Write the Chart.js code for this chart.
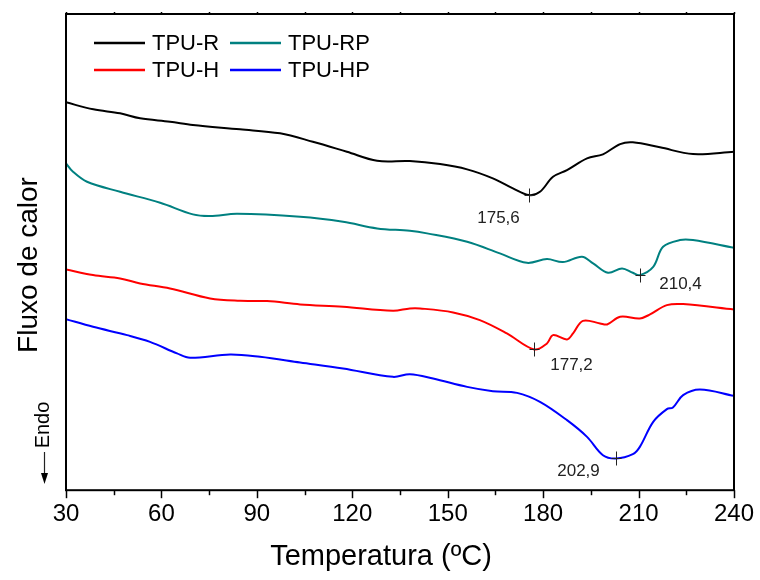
<!DOCTYPE html>
<html>
<head>
<meta charset="utf-8">
<script src="https://cdn.jsdelivr.net/npm/chart.js@4"></script>
<style>
  body { margin: 0; background: #fff; }
  #wrap { width: 760px; height: 580px; }
</style>
</head>
<body>
<div id="wrap"><canvas id="dscChart" width="760" height="580"></canvas></div>
<script>
// ---------- DSC CURVES (heat flow, arbitrary units) ----------

const seriesNames = ['TPU-R', 'TPU-RP', 'TPU-H', 'TPU-HP'];
const seriesColors = ['#000000', '#008080', '#ff0000', '#0000ff'];

const tempR = [30, 38.6, 47, 53.3, 62.7, 69.9, 84.7, 97.3, 107.6, 118.3, 127.8, 138.1, 147.6, 156.1, 164.2, 170.5, 175.6, 179, 183.1, 187.5, 193.8, 198.8, 204.2, 208.2, 216.7, 227.1, 240];
const flowR = [387.7, 380.7, 376.7, 371.7, 368.3, 365, 360.7, 356.7, 348.3, 338.3, 329.3, 329, 326, 320.7, 311.7, 301.7, 295, 298.3, 313.3, 320, 331.7, 335.7, 346, 347.7, 342.7, 336, 338.3];

const tempRP = [30, 32.2, 36.6, 47, 59.6, 69.9, 75.3, 83.8, 103.6, 117.1, 127.8, 138.1, 143.5, 156.1, 166.4, 174.9, 181.2, 186.2, 192.2, 195.7, 200.4, 204.8, 208.2, 210.4, 214.6, 217.7, 223, 227.1, 240];
const flowRP = [326.7, 318.3, 308.3, 298.3, 287.3, 275.7, 274, 276.3, 273.3, 268.3, 261.7, 259.3, 256.7, 248.3, 236.7, 227.3, 231, 228, 233.3, 226.7, 217.3, 221.7, 217.3, 215, 223.3, 243.3, 250, 250, 242.3];

const tempH = [30, 38.5, 47, 53.3, 62.7, 75.3, 84.7, 93.2, 103.6, 117.1, 132.8, 138.1, 141.3, 151.7, 160.1, 168.6, 177.2, 181.2, 183.1, 187.5, 189.4, 192.5, 197.9, 200.1, 204.2, 210.4, 213.6, 218.9, 224, 240];
const flowH = [220.7, 215, 211.7, 206.7, 201.7, 191.7, 189.3, 189, 185.7, 183.3, 179.3, 181.7, 181.7, 177.7, 170, 156.7, 140.7, 146.7, 155, 150.7, 156.7, 169.3, 166.7, 165.7, 173.3, 171.7, 175.7, 185, 186, 180.7];

const tempHP = [30, 38.5, 49.2, 56.4, 64.9, 69, 81.6, 91, 103.6, 117.1, 132.8, 138.1, 145.4, 156.1, 164.2, 171.8, 179, 187.5, 193.8, 198.8, 202.9, 208.2, 210.4, 214.6, 218.9, 220.8, 224, 229.3, 240];
const flowHP = [171, 163.3, 155, 148.3, 136.7, 132.3, 135.7, 133.3, 127.7, 121.7, 113.3, 116, 111.7, 103.3, 99, 97.3, 88.3, 70, 53.3, 35, 31.7, 36, 43.3, 68.3, 81, 82.7, 95, 100.7, 94.3];

// Peak temperatures marked on the curves
const peakTemps = [175.6, 210.4, 177.2, 202.9];
const peakFlows = [295, 215, 140.7, 31.7];
const peakLabels = ['175,6', '210,4', '177,2', '202,9'];

const xTicks = [30, 60, 90, 120, 150, 180, 210, 240];

const FONT = "Arial, 'Liberation Sans', sans-serif";

function toPoints(xs, ys) {
    return xs.map((x, i) => ({ x: x, y: ys[i] }));
}

const allTemps = [tempR, tempRP, tempH, tempHP];
const allFlows = [flowR, flowRP, flowH, flowHP];

// Frame, ticks, legend, peak marks and axis titles
const decorPlugin = {
    id: 'decor',
    afterDraw(chart) {
        const ctx = chart.ctx;
        const a = chart.chartArea;
        const xs = chart.scales.x;
        const ys = chart.scales.y;
        ctx.save();

        // box
        ctx.strokeStyle = '#000';
        ctx.lineWidth = 2;
        ctx.strokeRect(a.left, a.top, a.right - a.left, a.bottom - a.top);

        // bottom ticks (major every 30, minor every 15)
        ctx.lineWidth = 1.5;
        for (let t = 30; t <= 240; t += 15) {
            const px = Math.round(xs.getPixelForValue(t)) + 0.5;
            const len = xTicks.includes(t) ? 8 : 5;
            ctx.beginPath();
            ctx.moveTo(px, a.bottom);
            ctx.lineTo(px, a.bottom + len);
            ctx.stroke();
            // small marks on the top edge
            ctx.beginPath();
            ctx.moveTo(px, a.top);
            ctx.lineTo(px, a.top - 2);
            ctx.stroke();
        }

        // legend, two columns
        ctx.font = '22px ' + FONT;
        ctx.textBaseline = 'middle';
        ctx.textAlign = 'left';
        const cols = [94, 230];
        const rows = [43, 70];
        seriesNames.forEach((name, i) => {
            const lx = cols[i % 2];
            const ly = rows[Math.floor(i / 2)];
            ctx.strokeStyle = seriesColors[i];
            ctx.lineWidth = 2.5;
            ctx.beginPath();
            ctx.moveTo(lx, ly);
            ctx.lineTo(lx + 51, ly);
            ctx.stroke();
            ctx.fillStyle = '#000';
            ctx.fillText(name, lx + 58, ly + 1);
        });

        // peak marks
        const offsets = [[-31, 23], [40, 9], [37, 16], [-38, 13]];
        ctx.font = '17px ' + FONT;
        ctx.textAlign = 'center';
        ctx.fillStyle = '#222';
        ctx.strokeStyle = '#222';
        ctx.lineWidth = 1;
        peakTemps.forEach((t, i) => {
            const px = Math.round(xs.getPixelForValue(t)) + 0.5;
            const py = Math.round(ys.getPixelForValue(peakFlows[i])) + 0.5;
            ctx.beginPath();
            ctx.moveTo(px, py - 7);
            ctx.lineTo(px, py + 7);
            ctx.moveTo(px - 5, py);
            ctx.lineTo(px + 5, py);
            ctx.stroke();
            ctx.fillText(peakLabels[i], px + offsets[i][0], py + offsets[i][1]);
        });

        // axis titles
        ctx.fillStyle = '#000';
        ctx.font = '29px ' + FONT;
        ctx.textAlign = 'center';
        ctx.fillText('Temperatura (ºC)', 381, 557);

        ctx.save();
        ctx.translate(29, 265);
        ctx.rotate(-Math.PI / 2);
        ctx.font = '28px ' + FONT;
        ctx.fillText('Fluxo de calor', 0, 0);
        ctx.restore();

        // Endo arrow
        ctx.save();
        ctx.translate(43, 425);
        ctx.rotate(-Math.PI / 2);
        ctx.font = '20px ' + FONT;
        ctx.fillText('Endo', 0, 0);
        ctx.restore();
        ctx.lineWidth = 1.2;
        ctx.beginPath();
        ctx.moveTo(44.5, 452);
        ctx.lineTo(44.5, 476);
        ctx.stroke();
        ctx.beginPath();
        ctx.moveTo(41, 473);
        ctx.lineTo(48, 473);
        ctx.lineTo(44.5, 484);
        ctx.closePath();
        ctx.fill();

        ctx.restore();
    }
};

const ctx = document.getElementById('dscChart').getContext('2d');

new Chart(ctx, {
    type: 'line',
    data: {
        datasets: seriesNames.map((name, i) => ({
            label: name,
            data: toPoints(allTemps[i], allFlows[i]),
            borderColor: seriesColors[i],
            borderWidth: 2,
            pointRadius: 0,
            tension: 0.35,
            fill: false
        }))
    },
    options: {
        responsive: false,
        animation: false,
        layout: {
            padding: { left: 66, right: 26, top: 14, bottom: 41 }
        },
        plugins: {
            legend: { display: false },
            tooltip: { enabled: false }
        },
        scales: {
            x: {
                type: 'linear',
                min: 30,
                max: 240,
                grid: { display: false, drawTicks: false },
                border: { display: false },
                afterFit(scale) {
                    // the layout padding already leaves room for the end labels
                    scale.paddingLeft = 0;
                    scale.paddingRight = 0;
                },
                ticks: {
                    stepSize: 30,
                    padding: 10,
                    color: '#000',
                    font: { size: 24, family: FONT },
                    maxRotation: 0
                }
            },
            y: {
                display: false,
                min: 0,
                max: 476
            }
        }
    },
    plugins: [decorPlugin]
});
</script>
</body>
</html>
